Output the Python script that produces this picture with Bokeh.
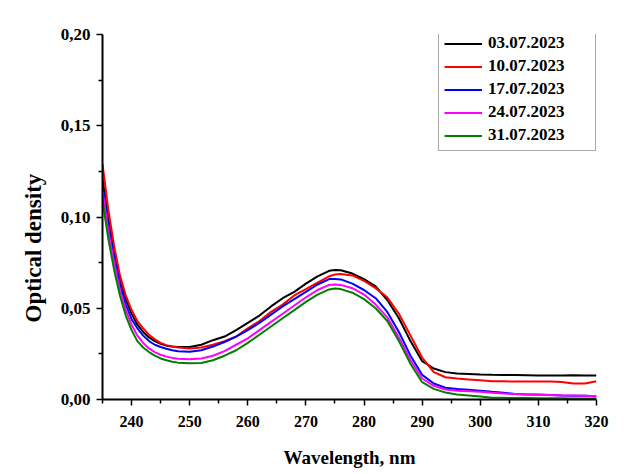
import numpy as np
from bokeh.plotting import figure
from bokeh.models import Range1d, FixedTicker, CustomJSTickFormatter, Title, Legend, LegendItem
from bokeh.embed import file_html
from bokeh.resources import INLINE

wavelength = [235, 236, 237, 238, 239, 240, 241, 242, 243, 244, 245, 246, 247, 248, 250, 252, 254, 256, 258, 260,
              262, 264, 266, 268, 270, 272, 274, 275, 276, 278, 280, 282, 284, 286, 288, 290, 292, 294, 296, 298,
              300, 302, 304, 306, 308, 310, 312, 314, 316, 318, 320]

od_0307 = [0.121, 0.099, 0.081, 0.066, 0.055, 0.047, 0.041, 0.037, 0.034, 0.032, 0.0305, 0.0295, 0.029, 0.0288,
           0.0288, 0.030, 0.0325, 0.0345, 0.038, 0.042, 0.046, 0.051, 0.0555, 0.059, 0.0635, 0.0675, 0.0705, 0.071,
           0.0708, 0.069, 0.066, 0.062, 0.0545, 0.0445, 0.032, 0.021, 0.017, 0.015, 0.0143, 0.014, 0.0137, 0.0135,
           0.0134, 0.0134, 0.0133, 0.0132, 0.0131, 0.0131, 0.0133, 0.0131, 0.0131]

od_1007 = [0.129, 0.104, 0.084, 0.068, 0.057, 0.049, 0.043, 0.039, 0.0355, 0.033, 0.031, 0.0298, 0.029, 0.0285,
           0.028, 0.0285, 0.030, 0.032, 0.0345, 0.039, 0.043, 0.048, 0.052, 0.057, 0.0605, 0.064, 0.0675, 0.0685,
           0.0688, 0.068, 0.065, 0.061, 0.056, 0.047, 0.035, 0.023, 0.015, 0.0122, 0.0115, 0.011, 0.0105, 0.010,
           0.010, 0.0098, 0.0098, 0.0098, 0.0098, 0.0096, 0.0088, 0.0088, 0.0100]

od_1707 = [0.117, 0.095, 0.078, 0.063, 0.052, 0.044, 0.039, 0.035, 0.032, 0.030, 0.0288, 0.0278, 0.027, 0.0265,
           0.0262, 0.027, 0.029, 0.0315, 0.0345, 0.038, 0.042, 0.0465, 0.051, 0.055, 0.059, 0.063, 0.066, 0.066,
           0.0658, 0.0635, 0.060, 0.0555, 0.048, 0.037, 0.024, 0.0135, 0.0088, 0.0065, 0.0057, 0.0053, 0.0048,
           0.0042, 0.0037, 0.003, 0.0028, 0.0027, 0.0025, 0.0022, 0.002, 0.002, 0.0018]

od_2407 = [0.114, 0.092, 0.075, 0.060, 0.049, 0.041, 0.035, 0.031, 0.028, 0.026, 0.0245, 0.0235, 0.0228, 0.0223,
           0.022, 0.0225, 0.024, 0.0265, 0.030, 0.0335, 0.038, 0.0425, 0.047, 0.0515, 0.056, 0.060, 0.0628, 0.063,
           0.0628, 0.061, 0.0575, 0.052, 0.045, 0.034, 0.0215, 0.0115, 0.0075, 0.0055, 0.0048, 0.0045, 0.0042,
           0.0037, 0.0033, 0.003, 0.0027, 0.0025, 0.0024, 0.0022, 0.0022, 0.002, 0.0018]

od_3107 = [0.109, 0.088, 0.071, 0.057, 0.046, 0.038, 0.032, 0.0285, 0.026, 0.024, 0.0225, 0.0215, 0.0207, 0.0202,
           0.0198, 0.020, 0.0215, 0.024, 0.027, 0.031, 0.0355, 0.040, 0.0445, 0.049, 0.0535, 0.0575, 0.0603, 0.0608,
           0.0605, 0.0585, 0.055, 0.050, 0.043, 0.032, 0.0195, 0.0095, 0.0058, 0.0038, 0.0028, 0.0022, 0.0016,
           0.001, 0.0009, 0.0008, 0.0008, 0.0007, 0.0007, 0.0007, 0.0006, 0.0006, 0.0006]

series_labels = ["03.07.2023", "10.07.2023", "17.07.2023", "24.07.2023", "31.07.2023"]
series_values = [od_0307, od_1007, od_1707, od_2407, od_3107]
series_colors = ["#000000", "#ff0000", "#0000ff", "#ff00ff", "#008000"]

x_ticks = [240, 250, 260, 270, 280, 290, 300, 310, 320]
x_minor = [235, 245, 255, 265, 275, 285, 295, 305, 315]
y_ticks = [0.0, 0.05, 0.10, 0.15, 0.20]
y_minor = [0.025, 0.075, 0.125, 0.175]

FONT = "Liberation Serif"

p = figure(width=618, height=470, output_backend="svg", toolbar_location=None,
           x_range=Range1d(235, 320), y_range=Range1d(0, 0.2),
           min_border_left=102, min_border_right=22, min_border_top=34, min_border_bottom=70)
p.outline_line_color = None
p.grid.visible = False
p.background_fill_color = "white"

items = []
for lab, vals, col in zip(series_labels, series_values, series_colors):
    r = p.line(wavelength, vals, line_color=col, line_width=2)
    items.append(LegendItem(label=lab, renderers=[r]))

for ax in (p.xaxis[0], p.yaxis[0]):
    ax.axis_line_width = 2
    ax.axis_line_color = "black"
    ax.major_tick_line_width = 1.5
    ax.minor_tick_line_width = 1.5
    ax.major_tick_in = 0
    ax.major_tick_out = 6
    ax.minor_tick_in = 0
    ax.minor_tick_out = 4
    ax.major_label_text_font = FONT
    ax.major_label_text_font_style = "bold"
    ax.major_label_text_color = "black"

p.xaxis.ticker = FixedTicker(ticks=x_ticks, minor_ticks=x_minor)
p.yaxis.ticker = FixedTicker(ticks=y_ticks, minor_ticks=y_minor)
p.xaxis.major_label_text_font_size = "16px"
p.yaxis.major_label_text_font_size = "17px"
p.xaxis.major_label_standoff = 10
p.yaxis.major_label_standoff = 6
p.yaxis.formatter = CustomJSTickFormatter(code="return tick.toFixed(2).replace('.', ',');")

p.xaxis.axis_label = "Wavelength, nm"
p.xaxis.axis_label_text_font = FONT
p.xaxis.axis_label_text_font_style = "bold"
p.xaxis.axis_label_text_font_size = "19px"
p.xaxis.axis_label_text_color = "black"
p.xaxis.axis_label_standoff = 17

ytitle = Title(text="Optical density", align="left", offset=77, standoff=24,
               text_font=FONT, text_font_style="bold", text_font_size="23px", text_color="black")
p.add_layout(ytitle, "left")

legend = Legend(items=items, location=(336, 248), orientation="vertical")
legend.label_text_font = FONT
legend.label_text_font_style = "bold"
legend.label_text_font_size = "17px"
legend.label_text_color = "black"
legend.glyph_width = 38
legend.glyph_height = 19
legend.label_height = 19
legend.label_width = 102
legend.spacing = 3
legend.padding = 5
legend.margin = 0
legend.label_standoff = 6
legend.border_line_color = "#555555"
legend.border_line_width = 1.5
legend.background_fill_alpha = 1.0
p.add_layout(legend)

open("out.html", "w").write(file_html(p, INLINE))
